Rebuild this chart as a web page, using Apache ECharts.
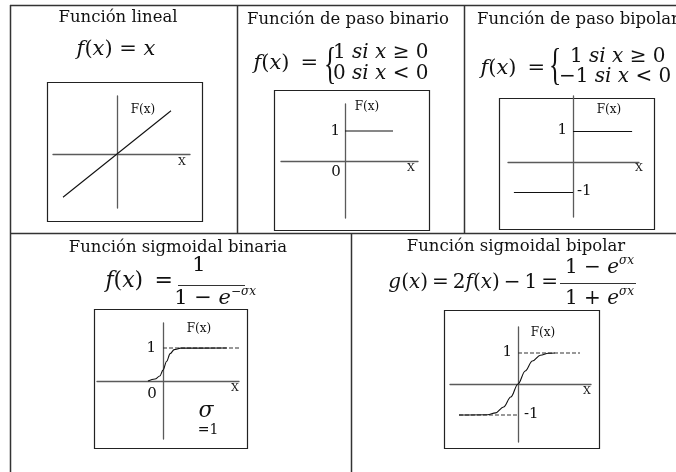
<!DOCTYPE html>
<html>
<head>
<meta charset="utf-8">
<script src="https://cdn.jsdelivr.net/npm/echarts@6/dist/echarts.min.js"></script>
<style>
  html, body { margin: 0; background: #fff; }
  #main { width: 676px; height: 472px; }
</style>
</head>
<body>
<div id="main"></div>
<script>
// puntos de cada funcion, en unidades de su propio eje
var lineal = [[-5.4, -5.4], [5.4, 5.4]];
var pasoBinario = [[0, 1], [1.6, 1]];
var pasoBipolarPos = [[0, 1], [1.97, 1]];
var pasoBipolarNeg = [[-1.97, -1], [0, -1]];
var sigBinaria = [[-0.94, 0], [-0.5, 0.06], [-0.2, 0.15], [0, 0.33], [0.23, 0.6], [0.45, 0.83], [0.7, 0.95], [1.1, 0.995], [3.98, 1]];
var sigBinariaAsint = [[0, 1], [5, 1]];
var sigBipolar = [[-3.69, -1], [-1.9, -0.99], [-1.4, -0.93], [-0.9, -0.74], [-0.45, -0.42], [0, 0], [0.45, 0.42], [0.9, 0.74], [1.4, 0.93], [1.9, 0.99], [2.3, 1]];
var sigBipolarAsintPos = [[0, 1], [3.875, 1]];
var sigBipolarAsintNeg = [[-3.69, -1], [0, -1]];

var grids = [
  { left: 53, top: 96, width: 137, height: 112 },
  { left: 281, top: 104, width: 137, height: 114 },
  { left: 508, top: 96, width: 131, height: 121 },
  { left: 97, top: 323, width: 142, height: 116 },
  { left: 450, top: 327, width: 141, height: 115 }
];
var xRange = [[-6.4, 7.3], [-2.1333, 2.4333], [-2.1667, 2.2], [-4.125, 4.75], [-4.25, 4.5625]];
var yRange = [[-6.75, 7.25], [-1.9, 1.9], [-1.803, 2.164], [-1.758, 1.758], [-1.871, 1.839]];

var SERIF = "'DejaVu Serif', serif";
var TS = "\u2009"; // espacio fino

function axis(r) {
  return {
    type: "value",
    min: r[0],
    max: r[1],
    splitLine: { show: false },
    axisTick: { show: false },
    axisLabel: { show: false },
    axisLine: { onZero: true, lineStyle: { color: "#5a5a5a", width: 1.3 } }
  };
}

function serie(i, data, dashed, smooth) {
  return {
    type: "line",
    xAxisIndex: i,
    yAxisIndex: i,
    data: data,
    symbol: "none",
    smooth: smooth ? 0.35 : false,
    smoothMonotone: "x",
    clip: false,
    silent: true,
    lineStyle: { color: dashed ? "#333" : "#111", width: 1.1, type: dashed ? [4, 2] : "solid" }
  };
}

function hline(x1, x2, y, w) {
  return { type: "line", shape: { x1: x1, y1: y, x2: x2, y2: y }, style: { stroke: "#333", lineWidth: w || 1.5 }, silent: true };
}
function vline(x, y1, y2, w) {
  return { type: "line", shape: { x1: x, y1: y1, x2: x, y2: y2 }, style: { stroke: "#333", lineWidth: w || 1.5 }, silent: true };
}
function caja(x1, y1, x2, y2) {
  return { type: "rect", shape: { x: x1 + 0.5, y: y1 + 0.5, width: x2 - x1, height: y2 - y1 }, style: { fill: "none", stroke: "#222", lineWidth: 1.2 }, silent: true };
}
function texto(x, y, txt, size, align, extra) {
  var st = { text: txt, font: size + "px " + SERIF, fill: "#111", textAlign: align || "center", textVerticalAlign: "middle" };
  if (extra) for (var k in extra) st[k] = extra[k];
  return { type: "text", x: x, y: y, style: st, silent: true };
}
function formula(x, y, txt, size, align) {
  return texto(x, y, txt, size, align, {
    rich: {
      i: { fontFamily: SERIF, fontStyle: "italic", fontSize: size },
      n: { fontFamily: SERIF, fontSize: size }
    }
  });
}
function llave(x, y) {
  var t = texto(x, y, "{", 32, "left", { font: "32px 'Liberation Serif', serif" });
  t.scaleX = 0.8;
  t.scaleY = 1.4;
  return t;
}

var graphic = [
  // tabla
  hline(10, 676, 5.5), hline(10, 676, 233.5),
  vline(10.5, 5, 472), vline(237.5, 5, 233), vline(464.5, 5, 233), vline(351.5, 233, 472),
  // cajas de las graficas
  caja(47, 82, 202, 221), caja(274, 90, 429, 230), caja(499, 98, 654, 229),
  caja(94, 309, 247, 448), caja(444, 310, 599, 448),
  // titulos
  texto(118, 18, "Función lineal", 16.5),
  texto(348, 20, "Función de paso binario", 16.5),
  texto(477, 20, "Función de paso bipolar", 16.5, "left"),
  texto(178, 248, "Función sigmoidal binaria", 16.5),
  texto(516, 247, "Función sigmoidal bipolar", 16.5),
  // formulas
  formula(116, 50, "{i|f}{n|(}{i|x}{n|) = }{i|x}", 21),
  formula(318, 64, "{i|f}{n|(}{i|x}{n|)" + TS + " =}", 21, "right"),
  llave(324, 66),
  formula(333, 53, "{n|1 }{i|si x}{n| ≥ 0}", 20, "left"),
  formula(333, 74, "{n|0 }{i|si x}{n| < 0}", 20, "left"),
  formula(545, 69, "{i|f}{n|(}{i|x}{n|)" + TS + " =}", 21, "right"),
  llave(549, 67),
  formula(570, 57, "{n|1 }{i|si x}{n| ≥ 0}", 20, "left"),
  formula(559, 77, "{n|−1 }{i|si x}{n| < 0}", 20, "left"),
  formula(173, 281, "{i|f}{n|(}{i|x}{n|)" + TS + " =}", 22, "right"),
  formula(199, 266, "{n|1}", 21),
  hline(178, 245, 285.5, 1.2),
  formula(231, 299, "{n|1 − }{i|e}", 21, "right"),
  formula(231, 292, "{n|−}{i|σx}", 12, "left"),
  formula(558, 283, "{i|g}{n|(}{i|x}{n|)" + TS + "=" + TS + "2}{i|f}{n|(}{i|x}{n|)" + TS + "−" + TS + "1" + TS + "=}", 20, "right"),
  formula(619, 268, "{n|1 − }{i|e}", 20, "right"),
  formula(619, 261, "{i|σx}", 12, "left"),
  hline(560, 636, 283.5, 1.2),
  formula(619, 299, "{n|1 + }{i|e}", 20, "right"),
  formula(619, 292, "{i|σx}", 12, "left"),
  // rotulos de las graficas
  texto(143, 110, "F(x)", 12), texto(182, 162, "X", 11),
  texto(367, 107, "F(x)", 12), texto(411, 168, "X", 11),
  texto(340, 131, "1", 15, "right"), texto(336, 172, "0", 15),
  texto(609, 110, "F(x)", 12), texto(639, 168, "X", 11),
  texto(567, 130, "1", 15, "right"), texto(577, 191, "-1", 15, "left"),
  texto(199, 329, "F(x)", 12), texto(235, 388, "X", 11),
  texto(156, 348, "1", 15, "right"), texto(152, 394, "0", 15),
  formula(206, 411, "{i|σ}", 22), texto(208, 430, "=1", 14),
  texto(543, 333, "F(x)", 12), texto(587, 391, "X", 11),
  texto(512, 352, "1", 15, "right"), texto(524, 414, "-1", 15, "left")
];

var option = {
  animation: false,
  backgroundColor: "#fff",
  grid: grids,
  xAxis: xRange.map(function (r, i) { var a = axis(r); a.gridIndex = i; return a; }),
  yAxis: yRange.map(function (r, i) { var a = axis(r); a.gridIndex = i; return a; }),
  series: [
    serie(0, lineal),
    serie(1, pasoBinario),
    serie(2, pasoBipolarPos),
    serie(2, pasoBipolarNeg),
    serie(3, sigBinariaAsint, true),
    serie(3, sigBinaria, false, true),
    serie(4, sigBipolarAsintPos, true),
    serie(4, sigBipolarAsintNeg, true),
    serie(4, sigBipolar, false, true)
  ],
  graphic: graphic
};

var chart = echarts.init(document.getElementById("main"));
chart.setOption(option);
</script>
</body>
</html>
